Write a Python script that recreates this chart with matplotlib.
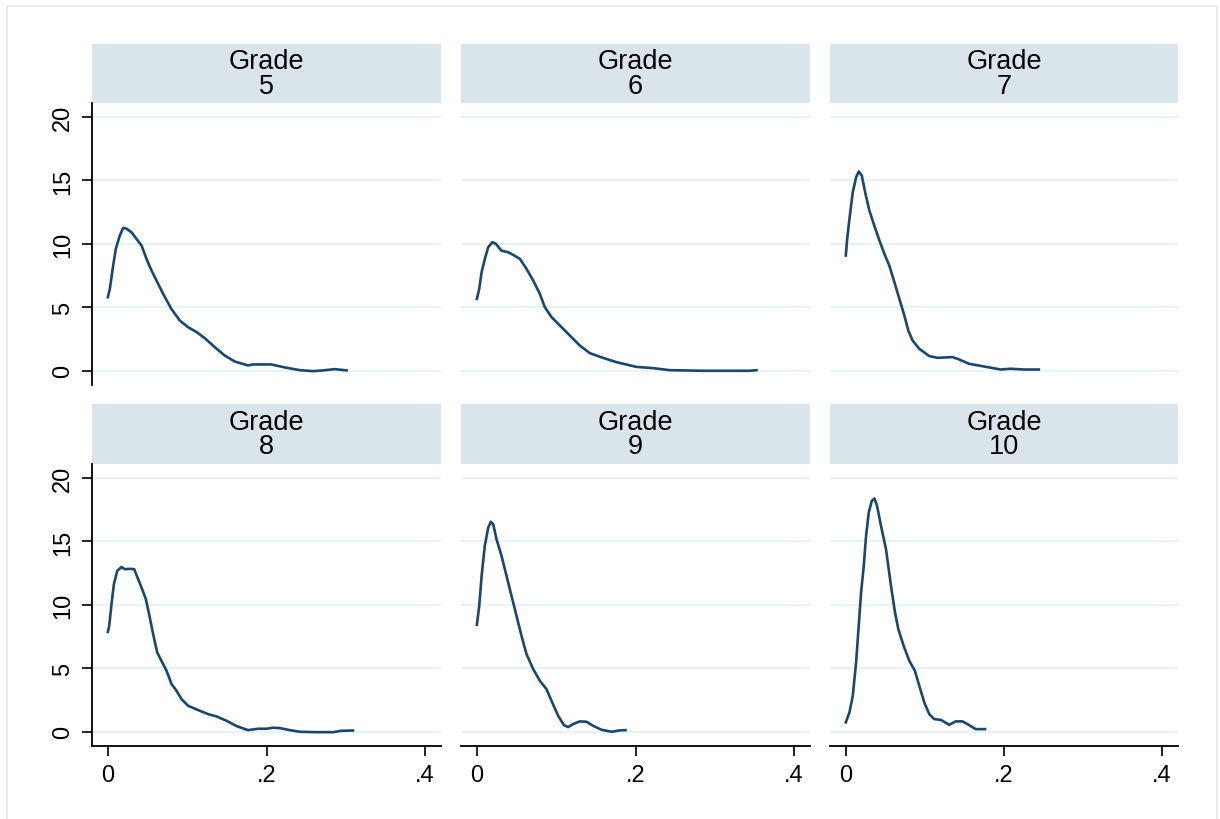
import matplotlib
matplotlib.use("Agg")
from matplotlib import pyplot as plt
from matplotlib.patches import Rectangle

plt.rcParams["font.family"] = ["Liberation Sans", "DejaVu Sans"]

# Dati (densita kernel per classe)
grade_5_x = [0, .0025, .0067, .010, .015, .0193, .0235, .030, .036, .0425, .0488, .055,
             .0614, .0697, .080, .0907, .101, .1118, .1222, .1348, .1474, .160, .1768,
             .183, .206, .225, .242, .259, .2713, .286, .301]
grade_5_y = [5.8, 6.46, 8.3, 9.6, 10.65, 11.26, 11.2, 10.9, 10.4, 9.87, 8.8, 7.9,
             7.1, 6.06, 4.88, 3.96, 3.44, 3.05, 2.57, 1.86, 1.2, .73, .42,
             .5, .5, .24, .05, -.03, .03, .13, .03]

grade_6_x = [0, .003, .006, .010, .0143, .0197, .024, .031, .0395, .0458, .0542, .0626,
             .071, .0794, .0857, .0941, .1046, .1172, .1298, .1424, .159, .176, .201,
             .222, .243, .285, .327, .344, .3525]
grade_6_y = [5.67, 6.46, 7.77, 8.8, 9.74, 10.13, 10.0, 9.47, 9.34, 9.13, 8.82, 8.03,
             7.11, 6.06, 5.01, 4.23, 3.57, 2.78, 1.99, 1.39, 1.02, .68, .31,
             .21, .05, 0, 0, 0, .05]

grade_7_x = [0, .0017, .0046, .0088, .013, .0164, .0202, .0244, .0298, .036, .0425, .0488,
             .055, .0614, .0677, .074, .079, .0844, .0929, .1055, .116, .1348, .1433,
             .1559, .1748, .1957, .2083, .2252, .244]
grade_7_y = [9.08, 10.39, 11.97, 14.07, 15.25, 15.7, 15.38, 14.07, 12.62, 11.44, 10.26, 9.21,
             8.29, 6.98, 5.67, 4.35, 3.17, 2.39, 1.73, 1.16, 1.02, 1.08, .89,
             .55, .34, .1, .16, .1, .1]

grade_8_x = [0, .0017, .0046, .0076, .0118, .0172, .0214, .0277, .0332, .0382, .0424, .0479,
             .052, .0571, .0622, .0676, .074, .0803, .0866, .0929, .1012, .1138, .1264,
             .137, .1496, .1622, .1768, .1894, .2, .2083, .2168, .2294, .242, .263, .284,
             .2945, .309]
grade_8_y = [7.87, 8.35, 10.06, 11.63, 12.68, 12.99, 12.81, 12.84, 12.81, 12.02, 11.37, 10.45,
             9.27, 7.69, 6.25, 5.59, 4.8, 3.76, 3.23, 2.57, 2.05, 1.71, 1.39,
             1.21, .87, .45, .13, .24, .24, .32, .29, .13, 0, -.03, -.03,
             .08, .1]

grade_9_x = [0, .003, .006, .010, .0143, .0176, .0206, .0248, .0311, .0374, .0437, .05,
             .0563, .0626, .071, .0794, .0878, .0941, .1025, .1096, .115, .1214, .1298,
             .1382, .1466, .1571, .1697, .1802, .1874]
grade_9_y = [8.43, 9.92, 12.28, 14.65, 16.09, 16.54, 16.35, 15.17, 13.86, 12.28, 10.71, 9.13,
             7.56, 6.12, 4.94, 4.02, 3.36, 2.44, 1.26, .53, .37, .61, .82,
             .79, .47, .16, 0, .11, .13]

grade_10_x = [0, .0046, .0088, .013, .016, .0193, .0227, .0256, .029, .0328, .0362, .0395,
              .0445, .0508, .0571, .0622, .0664, .0731, .0803, .0874, .0929, .0992, .1055,
              .1118, .1201, .1307, .139, .1474, .1559, .1642, .176]
grade_10_y = [.74, 1.53, 2.84, 5.46, 8.09, 10.98, 13.07, 15.43, 17.27, 18.19, 18.38, 17.8,
              16.22, 14.39, 11.5, 9.4, 8.09, 6.77, 5.59, 4.8, 3.62, 2.31, 1.39,
              1.0, .94, .55, .82, .82, .53, .21, .21]

classi = ["5", "6", "7", "8", "9", "10"]
curve = [(grade_5_x, grade_5_y), (grade_6_x, grade_6_y), (grade_7_x, grade_7_y),
         (grade_8_x, grade_8_y), (grade_9_x, grade_9_y), (grade_10_x, grade_10_y)]

y_ticks = [0, 5, 10, 15, 20]
x_ticks = [0, .2, .4]
x_tick_labels = ["0", ".2", ".4"]

# Layout in pixel (stile Stata s2color)
W, H = 1220, 820
colonne = [(92, 349), (461, 349), (830, 348)]
righe = [(45, 104, 386), (405, 465, 747)]  # strip top, plot top, plot bottom

navy = "#1a476f"
grigio_griglia = "#eaf2f3"
colore_strip = "#d9e5ea"

fig = plt.figure(figsize=(W / 100, H / 100), dpi=100)
fig.patches.append(Rectangle((7 / W, -0.05), 1210 / W, 1.05 - 7 / H,
                             transform=fig.transFigure, fill=False,
                             edgecolor="#e3e8ec", linewidth=1.2))


def fig_rect(x0, y0, w, h):
    return [x0 / W, 1 - (y0 + h) / H, w / W, h / H]


for i, (xs, ys) in enumerate(curve):
    riga, col = divmod(i, 3)
    left, width = colonne[col]
    strip_top, plot_top, plot_bot = righe[riga]

    # striscia del titolo
    ax_s = fig.add_axes(fig_rect(left, strip_top, width, plot_top - strip_top))
    ax_s.set_facecolor(colore_strip)
    ax_s.set_xticks([])
    ax_s.set_yticks([])
    for s in ax_s.spines.values():
        s.set_visible(False)
    ax_s.text(0.5, 0.5, f"Grade\n{classi[i]}", ha="center", va="center",
              fontsize=19.5, linespacing=0.92, transform=ax_s.transAxes)

    ax = fig.add_axes(fig_rect(left, plot_top, width, plot_bot - plot_top))
    ax.plot(xs, ys, color=navy, linewidth=1.9, solid_joinstyle="round")
    ax.set_xlim(-0.02, 0.42)
    ax.set_ylim(-1.12, 21.1)
    ax.set_yticks(y_ticks)
    ax.set_xticks(x_ticks)
    ax.grid(axis="y", color=grigio_griglia, linewidth=1.6)
    ax.set_axisbelow(True)
    for s in ["top", "right"]:
        ax.spines[s].set_visible(False)
    ax.spines["left"].set_linewidth(1.3)
    ax.spines["bottom"].set_linewidth(1.3)
    ax.tick_params(direction="out", length=7, width=1.2, labelsize=17, pad=6)

    if col == 0:
        ax.set_yticklabels([str(t) for t in y_ticks], rotation=90, va="center")
    else:
        ax.spines["left"].set_visible(False)
        ax.tick_params(axis="y", left=False, labelleft=False)

    if riga == 1:
        ax.set_xticklabels(x_tick_labels)
    else:
        ax.spines["bottom"].set_visible(False)
        ax.tick_params(axis="x", bottom=False, labelbottom=False)

fig.savefig("out.png", dpi=100)
